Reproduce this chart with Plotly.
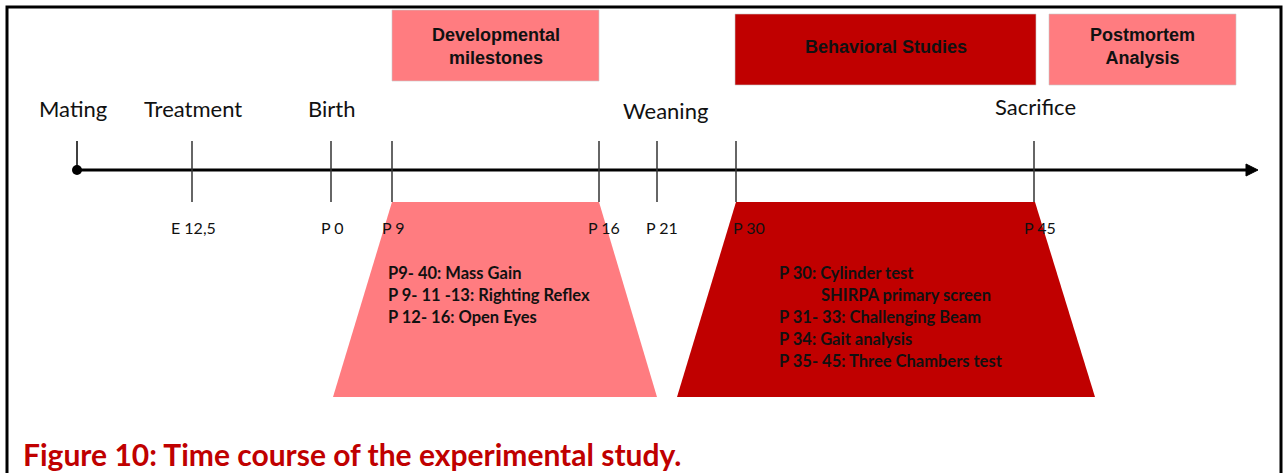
"""
Diagrama de linha do tempo do estudo experimental (Figura 10).
"""

import plotly.graph_objects as go

# eventos acima da linha do tempo
eventos = ["Mating", "Treatment", "Birth", "Weaning", "Sacrifice"]
eventos_x = [73, 193, 331, 665, 1035]

# marcas na linha do tempo (posição ao longo do eixo) e rótulos abaixo
marcas_x = [192, 331, 392, 599, 657, 736, 1034]
marcas_rotulo = ["E 12,5", "P 0", "P 9", "P 16", "P 21", "P 30", "P 45"]

# fases (caixas de cima)
fases = ["Developmental<br>milestones", "Behavioral Studies", "Postmortem<br>Analysis"]
fases_ini = [392, 735, 1049]
fases_fim = [599, 1036, 1236]

# atividades dentro dos trapézios
ativ_dev = ["P9- 40: Mass Gain", "P 9- 11 -13: Righting Reflex", "P 12- 16: Open Eyes"]
ativ_comp = ["P 30: Cylinder test", "SHIRPA primary screen", "P 31- 33: Challenging Beam",
             "P 34: Gait analysis", "P 35- 45: Three Chambers test"]

ROSA = '#FF7C80'
VERMELHO = '#C00000'
FONTE = 'Lato'
FONTE_CAIXA = 'Liberation Sans'

W, H = 1283, 473
Y_LINHA = 170

fig = go.Figure()
shapes = []
annotations = []

# moldura
shapes.append(dict(type='path', path=f"M 7 {H} L 7 7 L 1281 7 L 1281 {H}",
                   line=dict(color='black', width=3)))

# caixas das fases
for nome, x0, x1, cor, y0, y1 in zip(fases, fases_ini, fases_fim, [ROSA, VERMELHO, ROSA],
                                     [10, 14, 14], [81, 85, 85]):
    shapes.append(dict(type='rect', x0=x0, x1=x1, y0=y0, y1=y1, fillcolor=cor,
                       line=dict(color='rgba(200,200,200,0.6)', width=1), layer='below'))
    annotations.append(dict(x=(x0 + x1) / 2, y=46.5, text=f"<b>{nome}</b>",
                            showarrow=False, xanchor='center', yanchor='middle',
                            font=dict(family=FONTE_CAIXA, size=18, color='#111')))

# trapézios
shapes.append(dict(type='path', path="M 392 202 L 599 202 L 657 397 L 333 397 Z",
                   fillcolor=ROSA, line=dict(width=0), layer='below'))
shapes.append(dict(type='path', path="M 736 202 L 1035 202 L 1095 397 L 677 397 Z",
                   fillcolor=VERMELHO, line=dict(width=0), layer='below'))

# linha do tempo + seta
shapes.append(dict(type='line', x0=77, x1=1249, y0=Y_LINHA, y1=Y_LINHA,
                   line=dict(color='black', width=3)))
shapes.append(dict(type='path', path=f"M 1246 {Y_LINHA-6} L 1258 {Y_LINHA} L 1246 {Y_LINHA+6} Z",
                   fillcolor='black', line=dict(color='black', width=1)))
shapes.append(dict(type='line', x0=77, x1=77, y0=141, y1=Y_LINHA,
                   line=dict(color='black', width=1.5)))
shapes.append(dict(type='circle', x0=72, x1=82, y0=Y_LINHA - 5, y1=Y_LINHA + 5,
                   fillcolor='black', line=dict(color='black', width=0)))

for x in marcas_x:
    shapes.append(dict(type='line', x0=x, x1=x, y0=141, y1=202,
                       line=dict(color='#333', width=1.5)))

# rótulos de eventos
for nome, x in zip(eventos, eventos_x):
    dy = {'Weaning': 2, 'Sacrifice': -2}.get(nome, 0)
    annotations.append(dict(x=x, y=108 + dy, text=nome, showarrow=False,
                            xanchor='center', yanchor='middle',
                            font=dict(family=FONTE, size=22, color='#111')))

# rótulos das marcas
for x, rot in zip(marcas_x, marcas_rotulo):
    deslocamento = {'P 9': 1, 'P 16': 5, 'P 21': 5, 'P 30': 13, 'P 45': 6}.get(rot, 1)
    annotations.append(dict(x=x + deslocamento, y=227, text=rot, showarrow=False,
                            xanchor='center', yanchor='middle',
                            font=dict(family=FONTE, size=16, color='#111')))

# atividades
for i, txt in enumerate(ativ_dev):
    annotations.append(dict(x=386, y=273 + 22 * i, text=f"<b>{txt}</b>", showarrow=False,
                            xanchor='left', yanchor='middle',
                            font=dict(family=FONTE, size=16.5, color='#111')))
for i, txt in enumerate(ativ_comp):
    annotations.append(dict(x=819 if i == 1 else 777, y=273 + 22 * i, text=f"<b>{txt}</b>",
                            showarrow=False, xanchor='left', yanchor='middle',
                            font=dict(family=FONTE, size=16.5, color='#111')))

# legenda da figura
annotations.append(dict(x=21, y=454, text="<b>Figure 10: Time course of the experimental study.</b>",
                        showarrow=False, xanchor='left', yanchor='middle',
                        font=dict(family=FONTE, size=30, color=VERMELHO)))

fig.update_layout(
    width=W, height=H,
    margin=dict(l=0, r=0, t=0, b=0),
    paper_bgcolor='white',
    plot_bgcolor='white',
    xaxis=dict(range=[0, W], visible=False, fixedrange=True),
    yaxis=dict(range=[H, 0], visible=False, fixedrange=True),
    shapes=shapes,
    annotations=annotations,
    showlegend=False
)

# tira a margem padrão do <body> para a figura encostar no canto
fig.write_html("out.html", post_script="document.body.style.margin='0';",
               config={'displayModeBar': False})
